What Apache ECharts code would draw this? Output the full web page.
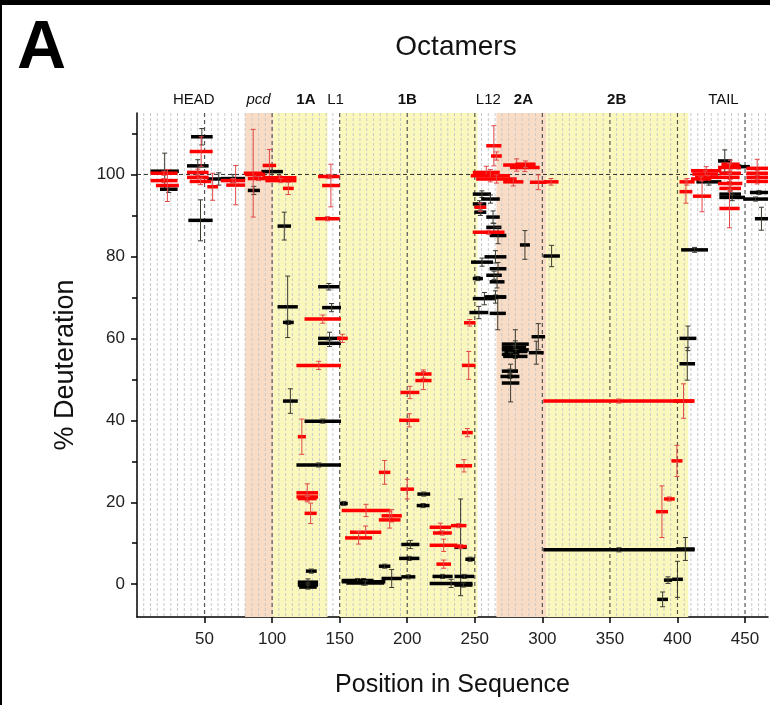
<!DOCTYPE html>
<html>
<head>
<meta charset="utf-8">
<script src="https://cdn.jsdelivr.net/npm/echarts@6/dist/echarts.min.js"></script>
<style>
  html, body { margin: 0; padding: 0; background: #fff; }
  #chart { width: 770px; height: 705px; }
</style>
</head>
<body>
<div id="chart"></div>
<script>
// Peptide spans: [first residue, last residue, % deuteration, error]
const headBlack = [
  [10, 31, 100.8, 4.4], [17, 30, 96.4, 0.8], [40, 56, 109.2, 2], [37, 53, 102.1, 1.5],
  [38, 56, 88.8, 5], [52, 69, 98.9, 1.5], [62, 80, 99, 1], [82, 91, 96.1, 1],
  [92, 108, 100.7, 1.5]
];
const headRed = [
  [10, 30, 100.3, 0.5], [10, 30, 98.5, 0.5], [14, 31, 97.3, 3.9], [39, 56, 105.6, 3.6],
  [37, 53, 100.5, 0.8], [37, 53, 99.3, 0.8], [39, 55, 98.3, 0.8], [52, 60, 97, 3.3],
  [62, 80, 98.5, 0.5], [66, 80, 97.4, 4.8], [80, 95, 100, 0.5], [82, 98, 99, 0.5],
  [79, 93, 100.3, 10.7], [93, 103, 102.2, 3.9], [93, 118, 99.2, 0.5], [95, 118, 98.5, 0.5],
  [108, 116, 96.6, 1.5]
];
const helix1Black = [
  [104, 114, 87.4, 3.4], [134, 150, 72.6, 0.8], [104, 119, 67.7, 7.5], [108, 116, 63.9, 0.5],
  [137, 151, 67.5, 1], [134, 151, 60, 1.5], [134, 151, 58.8, 0.8], [108, 119, 44.7, 3],
  [124, 151, 39.8, 0.5], [118, 151, 29.1, 0.5], [125, 133, 3.2, 0.5], [119, 134, 0.5, 0.8],
  [119, 134, -0.2, 0.5], [120, 133, -0.7, 0.5], [150, 156, 19.7, 0.5],
  [207.5, 217, 22, 0.5], [207, 216.5, 19.2, 0.5], [195.6, 209, 9.7, 1], [194, 209, 6.3, 0.5],
  [235, 244, 9, 11.8], [243, 250, 6.1, 0.5], [218.7, 233.6, 1.9, 0.5], [216.6, 248.3, 0.2, 1],
  [234.8, 248.3, -0.2, 0.5], [235, 249.5, 1.9, 0.5], [179, 187.5, 4.4, 0.5], [181, 196, 1.4, 2.2],
  [195.6, 206, 1.8, 0.5], [151.5, 183.8, 0.6, 0.8], [151.5, 175, 0.9, 0.5], [155, 183, 0.3, 0.5]
];
const helix1Red = [
  [134, 150, 99.5, 0.5], [137, 150, 97.3, 5.2], [132, 150, 89.2, 0.5], [124, 151, 64.7, 1],
  [148, 156, 60, 1], [118, 151, 53.4, 1], [119, 125, 36, 4.3], [118, 134, 22.3, 2.2],
  [118, 134, 21.3, 0.5], [119, 133, 20.9, 0.5], [124, 133, 17.3, 2.5],
  [179, 187.5, 27.3, 2.9], [236, 248, 28.9, 1.5], [195, 205, 23.2, 2.4], [151.5, 187.5, 18, 1.5],
  [181, 196, 16.7, 1.5], [179, 195, 15.7, 2], [157.6, 180.8, 12.7, 1.5], [154, 174, 11.3, 1.5],
  [216.6, 232.4, 13.9, 1], [219, 233, 12.5, 0.5], [232.4, 243.8, 14.3, 0.5], [216.6, 237.3, 9.5, 1.5],
  [235, 244, 9.2, 0.5], [221.6, 232.4, 4.9, 1], [242, 250.5, 63.8, 0.8], [240.5, 250.5, 53.4, 3.4],
  [206, 218, 51.3, 1], [206, 218, 49.7, 2.2], [195, 209, 46.8, 1.5], [194, 209, 40, 1.6],
  [240.5, 248.5, 37, 1]
];
const helix2Black = [
  [248.5, 265.7, 69.7, 1.5], [258, 273, 70.1, 0.5], [246, 260, 66.3, 1.5], [261, 273, 66.1, 4],
  [292, 302, 60.4, 3.2], [270, 290, 58.6, 0.8], [270, 288, 57.8, 0.5], [270, 290, 57.2, 4.9],
  [272, 289, 56.8, 0.5], [290, 301, 56.5, 2.8], [270, 283, 56.1, 0.5], [271, 289, 55.6, 0.5],
  [270, 282, 52, 0.5], [269, 283, 50.7, 0.5], [270, 283, 49.1, 4.6], [283.4, 290.8, 82.8, 3.5],
  [300.7, 313, 80.1, 2.6], [248.5, 262, 95.2, 0.8], [254.7, 268.5, 94, 1], [248.5, 258.5, 92.8, 0.8],
  [249.7, 258.5, 90.8, 0.8], [258.5, 268.5, 89.6, 1.5], [258.5, 269.7, 87.1, 1], [261, 273.4, 85.1, 2],
  [257.2, 273.4, 79.9, 1.5], [247.2, 263.5, 78.6, 1], [261, 273.4, 77, 1.5], [258.5, 270, 75.4, 1],
  [261, 272, 73.8, 1.5], [248.5, 256, 74.6, 0.5], [257.2, 273.4, 70.1, 1.5],
  [300.7, 412.7, 8.4, 0.5], [399, 412.7, 8.6, 2.8], [390, 396, 1, 0.8], [396, 404, 1.2, 4.4],
  [385, 393, -3.7, 1.8], [401.5, 414, 60, 3], [401.5, 413, 53.8, 4], [402.7, 422.6, 81.6, 0.6]
];
const helix2Red = [
  [258.5, 269.7, 107, 4.9], [262, 270, 104.5, 1], [271, 291, 102.3, 1.5], [276, 298, 101.7, 1],
  [280, 295, 102.5, 0.8], [248.5, 268.5, 100.5, 1.5], [247, 276, 99.7, 1.5], [251, 281, 98.9, 1],
  [290.8, 303.2, 98.1, 1.8], [271, 286, 98.2, 1], [248.5, 272, 85.9, 0.5], [249.7, 258.5, 92, 1],
  [301, 312, 98.2, 0.8], [300.7, 412.7, 44.7, 0.5], [397, 412, 44.7, 4.2], [395.5, 403.7, 30.1, 3.8],
  [390, 398, 20.8, 0.5], [384, 393, 17.7, 6.3]
];
const tailBlack = [
  [414, 432.5, 98.2, 0.8], [430, 440, 103.3, 2.7], [431, 447, 95.2, 0.8], [431, 450, 94.4, 0.8],
  [437, 453.6, 101.9, 0.5], [448.6, 467, 94, 0.5], [453.6, 467, 95.6, 0.5], [457.3, 467, 89.2, 2.8]
];
const tailRed = [
  [401.5, 412.7, 98.2, 0.8], [401.5, 411, 95.8, 2.8], [411.4, 425, 94.7, 3.8], [410, 432.5, 100.9, 1],
  [411, 430, 100.1, 0.8], [413, 432, 99.3, 0.5], [410, 425, 98.9, 0.5], [432.5, 446, 102.5, 1],
  [430, 447, 101.7, 1], [431, 447, 100.3, 0.8], [431, 446, 99.3, 1], [430, 448, 97.8, 1],
  [431, 447, 96.6, 0.8], [431, 446, 91.7, 4.7], [451, 467, 101.5, 2.2], [451, 467, 100.3, 0.6],
  [451, 467, 99.3, 0.6], [451, 467, 98.3, 0.6]
];

// Structural regions along the sequence
const regionStart = [80, 101, 150, 266, 303];
const regionEnd = [101, 141, 252, 303, 408];
const regionKind = ['pcd', 'helix', 'helix', 'pcd', 'helix'];

// Region names shown above the plot
const regionNames = ['HEAD', 'pcd', '1A', 'L1', '1B', 'L12', '2A', '2B', 'TAIL'];
const regionNamePos = [42, 90, 125, 147, 200, 260, 286, 355, 434];

// Axis ticks
const xTicks = [50, 100, 150, 200, 250, 300, 350, 400, 450];
const yTicks = [0, 20, 40, 60, 80, 100];
const yMinorTicks = [10, 30, 50, 70, 90, 110];
const fullLevel = 100;

const X_MIN = 0, X_MAX = 467, Y_MIN = -8, Y_MAX = 115;

const bandColors = { pcd: '#f8dcc6', helix: '#fbf8bd' };
const nameStyles = {
  pcd: { fontStyle: 'italic' },
  '1A': { fontWeight: 'bold' }, '1B': { fontWeight: 'bold' },
  '2A': { fontWeight: 'bold' }, '2B': { fontWeight: 'bold' }
};

const minorGridX = [];
for (let p = 5; p < X_MAX; p += 5) if (p % 50 !== 0) minorGridX.push(p);

const blackSpans = headBlack.concat(helix1Black, helix2Black, tailBlack);
const redSpans = headRed.concat(helix1Red, helix2Red, tailRed);

function spanRenderer(barColor, errColor) {
  return function (params, api) {
    const x0 = api.value(0), x1 = api.value(1), v = api.value(2), e = api.value(3);
    const pL = api.coord([x0, v]);
    const pR = api.coord([x1, v]);
    const mid = (x0 + x1) / 2;
    const pT = api.coord([mid, v + e]);
    const pB = api.coord([mid, v - e]);
    const cap = 2.5;
    return {
      type: 'group',
      children: [
        { type: 'line', shape: { x1: pL[0], y1: pL[1], x2: pR[0], y2: pR[1] },
          style: { stroke: barColor, lineWidth: 3.5 } },
        { type: 'line', shape: { x1: pT[0], y1: pT[1], x2: pB[0], y2: pB[1] },
          style: { stroke: errColor, lineWidth: 1 } },
        { type: 'line', shape: { x1: pT[0] - cap, y1: pT[1], x2: pT[0] + cap, y2: pT[1] },
          style: { stroke: errColor, lineWidth: 1 } },
        { type: 'line', shape: { x1: pB[0] - cap, y1: pB[1], x2: pB[0] + cap, y2: pB[1] },
          style: { stroke: errColor, lineWidth: 1 } }
      ]
    };
  };
}

const chart = echarts.init(document.getElementById('chart'), null, { renderer: 'canvas' });

const FONT = '"Liberation Sans", Arial, Helvetica, sans-serif';

chart.setOption({
  animation: false,
  backgroundColor: '#fff',
  textStyle: { fontFamily: FONT },
  title: [
    { text: 'Octamers', left: 451, top: 28, textAlign: 'center',
      textStyle: { fontSize: 28, fontWeight: 'normal', color: '#111', fontFamily: FONT } },
    { text: 'A', left: 12, top: 10,
      textStyle: { fontSize: 68, fontWeight: 'bold', color: '#000', fontFamily: FONT } }
  ],
  graphic: [
    { type: 'rect', shape: { x: 0, y: 0, width: 770, height: 5 }, style: { fill: '#000' }, z: 100 },
    { type: 'rect', shape: { x: 0, y: 0, width: 2, height: 705 }, style: { fill: '#000' }, z: 100 }
  ],
  grid: { left: 137, right: 2, top: 113, bottom: 88, containLabel: false },
  xAxis: {
    type: 'value', min: X_MIN, max: X_MAX,
    name: 'Position in Sequence', nameLocation: 'middle', nameGap: 56,
    nameTextStyle: { fontSize: 25, color: '#111', fontFamily: FONT },
    axisLine: { show: true, onZero: false, lineStyle: { color: '#000', width: 1.5 } },
    axisTick: { show: true, customValues: xTicks, length: 6, lineStyle: { color: '#000', width: 1.5 } },
    axisLabel: { customValues: xTicks, fontSize: 17, color: '#222', margin: 14, fontFamily: FONT },
    splitLine: { show: false }
  },
  yAxis: [
    {
      type: 'value', min: Y_MIN, max: Y_MAX,
      name: '% Deuteration', nameLocation: 'middle', nameGap: 58,
      nameTextStyle: { fontSize: 27, color: '#111', fontFamily: FONT },
      axisLine: { show: true, onZero: false, lineStyle: { color: '#000', width: 1.5 } },
      axisTick: { show: true, customValues: yTicks, length: 6, lineStyle: { color: '#000', width: 1.5 } },
      axisLabel: { customValues: yTicks, fontSize: 17, color: '#222', margin: 12, fontFamily: FONT },
      splitLine: { show: false }
    },
    {
      type: 'value', min: Y_MIN, max: Y_MAX, position: 'left',
      axisLine: { show: false },
      axisTick: { show: true, customValues: yMinorTicks, length: 5, lineStyle: { color: '#000', width: 1.5 } },
      axisLabel: { show: false },
      splitLine: { show: false }
    }
  ],
  series: [
    {
      // shaded structural regions
      type: 'custom', z: 1, silent: true,
      data: regionStart.map((s, i) => [s, regionEnd[i], i]),
      renderItem: function (params, api) {
        const a = api.coord([api.value(0), 0]);
        const b = api.coord([api.value(1), 0]);
        const cs = params.coordSys;
        return { type: 'rect', shape: { x: a[0], y: cs.y, width: b[0] - a[0], height: cs.height },
          style: { fill: bandColors[regionKind[api.value(2)]] } };
      }
    },
    {
      // minor vertical guides
      type: 'custom', z: 2, silent: true,
      data: minorGridX.map(p => [p]),
      renderItem: function (params, api) {
        const a = api.coord([api.value(0), 0]);
        const cs = params.coordSys;
        return { type: 'line', shape: { x1: a[0], y1: cs.y, x2: a[0], y2: cs.y + cs.height },
          style: { stroke: '#c9c9c9', lineWidth: 1, lineDash: [3, 2] } };
      }
    },
    {
      // major vertical guides
      type: 'custom', z: 3, silent: true,
      data: xTicks.map(p => [p]),
      renderItem: function (params, api) {
        const a = api.coord([api.value(0), 0]);
        const cs = params.coordSys;
        return { type: 'line', shape: { x1: a[0], y1: cs.y, x2: a[0], y2: cs.y + cs.height },
          style: { stroke: '#555', lineWidth: 1.2, lineDash: [4, 3] } };
      }
    },
    {
      // 100 % reference line
      type: 'custom', z: 3, silent: true,
      data: [[fullLevel]],
      renderItem: function (params, api) {
        const a = api.coord([X_MIN, api.value(0)]);
        const b = api.coord([X_MAX, api.value(0)]);
        return { type: 'line', shape: { x1: a[0], y1: a[1], x2: b[0], y2: b[1] },
          style: { stroke: '#333', lineWidth: 1, lineDash: [4, 3] } };
      }
    },
    {
      // region names above the plot
      type: 'custom', z: 5, silent: true, clip: false,
      data: regionNames.map((n, i) => [regionNamePos[i], i]),
      renderItem: function (params, api) {
        const p = api.coord([api.value(0), Y_MAX]);
        const name = regionNames[api.value(1)];
        const st = nameStyles[name] || {};
        return { type: 'text', x: p[0], y: p[1] - 13,
          style: { text: name, fill: '#111', fontSize: 15, fontFamily: FONT,
            fontWeight: st.fontWeight || 'normal', fontStyle: st.fontStyle || 'normal',
            align: 'center', verticalAlign: 'middle' } };
      }
    },
    {
      type: 'custom', name: 'black', z: 6, clip: false,
      data: blackSpans,
      renderItem: spanRenderer('#000', '#3a3a30')
    },
    {
      type: 'custom', name: 'red', z: 7, clip: false,
      data: redSpans,
      renderItem: spanRenderer('#ff0000', '#e04848')
    }
  ]
});
</script>
</body>
</html>
